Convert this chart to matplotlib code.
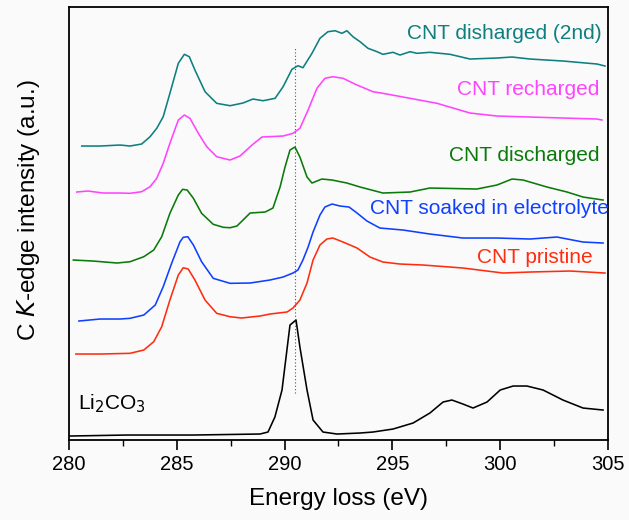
import matplotlib.pyplot as plt
import numpy as np

plt.rcParams["font.family"] = ["Liberation Sans", "DejaVu Sans"]

# Energies (eV) and intensities (a.u., already offset/stacked as in the figure)
li2co3_e = [280.05, 282.69, 285.75, 288.86, 289.23, 289.55, 289.88, 290.25, 290.53, 290.71,
            291.04, 291.32, 291.78, 292.43, 293.50, 294.10, 295.03, 295.96, 296.74, 297.35,
            297.76, 298.27, 298.74, 299.39, 300.00, 300.60, 301.24, 301.99, 302.91, 303.84, 304.77]
li2co3_i = [4, 5, 5, 6, 8, 23, 50, 115, 120, 93,
            50, 20, 8, 6, 7, 8, 11, 17, 27, 38,
            40, 36, 32, 38, 50, 54, 54, 50, 40, 32, 30]

pristine_e = [280.32, 281.44, 282.83, 283.47, 283.93, 284.30, 284.68, 285.07, 285.30, 285.53,
              285.84, 286.31, 286.85, 287.47, 288.00, 288.86, 289.32, 290.11, 290.39, 290.71,
              291.04, 291.32, 291.64, 291.96, 292.24, 292.71, 293.36, 293.96, 294.56, 295.35,
              296.42, 297.67, 298.27, 300.13, 301.38, 303.24, 304.86]
pristine_i = [86, 86, 86.7, 90, 98.3, 113.3, 140, 165, 172.3, 171,
              160, 140, 126.7, 123.3, 122, 124, 126, 128, 132, 140,
              157, 180, 195, 201, 202, 198, 192, 183, 178, 176,
              175, 173, 172, 167, 168, 169, 167]

soaked_e = [280.46, 281.44, 282.37, 282.83, 283.47, 284.00, 284.37, 284.76, 285.15, 285.30,
            285.51, 285.77, 286.15, 286.69, 287.47, 288.40, 289.32, 289.93, 290.39, 290.62,
            290.85, 291.09, 291.32, 291.64, 291.87, 292.20, 292.57, 292.99, 293.36, 293.82,
            294.42, 295.49, 296.74, 298.27, 299.85, 301.38, 302.63, 303.84, 304.77]
soaked_i = [119, 121, 121, 121.7, 125, 135, 153.3, 176.7, 198.3, 202.7,
            203.3, 195, 178.3, 161.7, 156.7, 157, 160, 163, 167, 170,
            180, 193, 208, 225, 233, 236, 234, 233, 227, 219,
            212, 210, 206, 202, 202, 201, 203, 198, 197]

discharged_e = [280.20, 281.11, 282.23, 282.83, 283.47, 283.93, 284.30, 284.68, 285.07, 285.27,
                285.48, 285.77, 286.15, 286.69, 287.16, 287.47, 287.79, 288.40, 289.10, 289.46,
                289.79, 290.02, 290.25, 290.48, 290.71, 291.04, 291.27, 291.73, 292.20, 292.89,
                293.50, 294.56, 295.82, 296.74, 298.92, 299.85, 300.55, 301.06, 302.17, 303.10,
                303.84, 304.77]
discharged_i = [180, 179, 177, 178.3, 183.3, 190, 203.3, 226.7, 245, 250.7,
                250, 241.7, 226.7, 215.7, 212.7, 212.3, 214, 227, 228, 232,
                253, 273, 290, 293, 283, 263, 257, 261, 260, 257,
                253, 247, 248, 252, 251, 255, 261, 260, 253, 248,
                243, 240]

recharged_e = [280.36, 280.88, 281.58, 282.37, 282.83, 283.37, 283.76, 284.07, 284.37, 284.68,
               285.07, 285.35, 285.61, 286.00, 286.39, 286.85, 287.47, 287.93, 288.49, 288.95,
               289.93, 290.39, 290.71, 291.09, 291.50, 291.87, 292.24, 292.71, 293.36, 294.10,
               294.56, 295.82, 297.07, 298.60, 299.85, 301.38, 302.91, 304.49, 304.72]
recharged_i = [248, 249, 247, 247, 246.7, 248.3, 253.3, 261.7, 276.7, 296.7,
               320, 325, 321.7, 306.7, 293.3, 283.3, 280, 284, 295, 303,
               304, 306.7, 311.7, 330, 351.7, 361.7, 363.3, 361.7, 355, 348.3,
               346.7, 341.7, 336.7, 327, 324, 323, 322, 321, 320]

discharged2_e = [280.59, 281.44, 282.37, 282.83, 283.37, 283.76, 284.07, 284.37, 284.68, 285.07,
                 285.35, 285.58, 285.84, 286.31, 286.85, 287.47, 288.07, 288.53, 289.00, 289.56,
                 289.93, 290.34, 290.62, 290.85, 291.27, 291.64, 292.01, 292.34, 292.66, 292.89,
                 293.17, 293.50, 293.87, 294.29, 294.56, 295.03, 295.35, 295.82, 296.14, 296.74,
                 297.67, 298.60, 299.85, 300.55, 301.38, 302.91, 304.49, 304.86]
discharged2_i = [294, 294, 295, 294, 296, 303.3, 311.7, 323.3, 346.7, 376.7,
                 385.7, 383.3, 370, 348.3, 336.7, 334.3, 337, 341, 339.3, 341.7,
                 353.3, 370.7, 374.3, 372.3, 386.7, 401.7, 408.3, 409.3, 406.7, 409.3,
                 403.3, 398.3, 391.7, 388.3, 385.7, 387.7, 385, 388.3, 386.7, 387.7,
                 385.7, 381, 382, 383, 381, 379, 376, 374]

fig = plt.figure(figsize=(6.29, 5.2), dpi=100, facecolor="#fafafa")
ax = fig.add_axes([0.1097, 0.1538, 0.8569, 0.8327], facecolor="#fafafa")

lw = 1.15
kw = dict(lw=lw, solid_joinstyle="round")
ax.plot(li2co3_e, li2co3_i, color="black", **kw)
ax.plot(pristine_e, pristine_i, color="#ff2d10", **kw)
ax.plot(soaked_e, soaked_i, color="#1040ff", **kw)
ax.plot(discharged_e, discharged_i, color="#0a7a0a", **kw)
ax.plot(recharged_e, recharged_i, color="#ff44ff", **kw)
ax.plot(discharged2_e, discharged2_i, color="#0e7f7f", **kw)

# guide line at the carbonate peak
ax.plot([290.5, 290.5], [47, 392], color="#555555", lw=0.8, ls=(0, (1, 2)))

fs = 15
ax.text(304.7, 407, "CNT disharged (2nd)", color="#0e7f7f", fontsize=fs, ha="right", va="center")
ax.text(304.6, 351, "CNT recharged", color="#ff44ff", fontsize=fs, ha="right", va="center")
ax.text(304.6, 285, "CNT discharged", color="#0a7a0a", fontsize=fs, ha="right", va="center")
ax.text(305.05, 232, "CNT soaked in electrolyte", color="#1040ff", fontsize=fs, ha="right", va="center")
ax.text(304.3, 183, "CNT pristine", color="#ff2d10", fontsize=fs, ha="right", va="center")
ax.text(280.4, 36, "Li$_2$CO$_3$", color="black", fontsize=fs, ha="left", va="center")

ax.set_xlim(280, 305)
ax.set_ylim(0, 433)
ax.set_xticks(np.arange(280, 306, 5))
ax.set_xticks(np.arange(282.5, 305, 5), minor=True)
ax.tick_params(axis="x", which="major", direction="out", length=7, width=1.2, labelsize=14.5,
               top=False, pad=4)
ax.tick_params(axis="x", which="minor", direction="out", length=4, width=1.0, top=False)
ax.set_yticks([])
for s in ax.spines.values():
    s.set_linewidth(1.3)

ax.set_xlabel("Energy loss (eV)", fontsize=17.5, labelpad=10)
ax.set_ylabel("C $\\it{K}$-edge intensity (a.u.)", fontsize=17.5)
ax.yaxis.set_label_coords(-0.05, 0.53)

fig.savefig("out.png", dpi=100, facecolor=fig.get_facecolor())
